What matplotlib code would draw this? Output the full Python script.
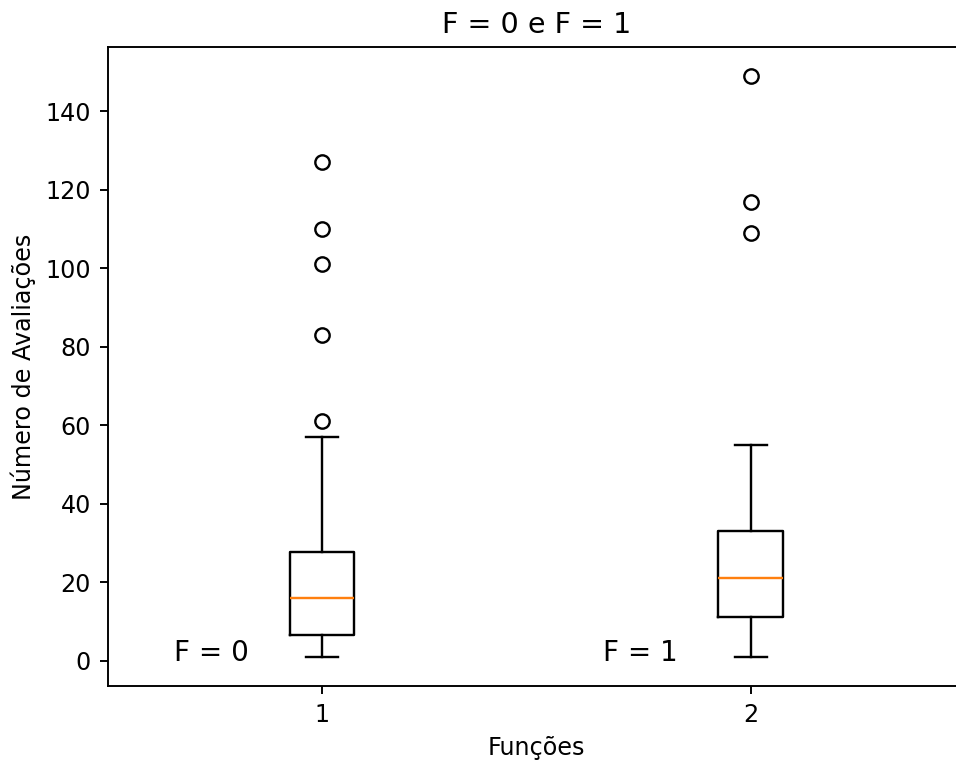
import matplotlib
matplotlib.use("Agg")
import matplotlib.pyplot as plt

labels = ["1", "2"]
q1 = [6.5, 11.2]
med = [16.0, 21.0]
q3 = [27.7, 33.2]
whislo = [1, 1]
whishi = [57, 55]
fliers = [[61, 83, 101, 110, 127], [109, 117, 149]]
annot = ["F = 0", "F = 1"]
annot_x = [0.655, 1.655]

dpi = 172
W, H = 956, 760
fig = plt.figure(figsize=(W / dpi, H / dpi), dpi=dpi)
ax = fig.add_axes([107.5 / W, 1 - 686 / H, (965 - 107.5) / W, (686 - 47) / H])

stats = []
for i in range(len(labels)):
    stats.append(dict(label=labels[i], q1=q1[i], med=med[i], q3=q3[i],
                      whislo=whislo[i], whishi=whishi[i], fliers=fliers[i]))
ax.bxp(stats)

for x, t in zip(annot_x, annot):
    ax.text(x, 0, t, fontsize=11.6, ha="left", va="baseline")

ax.set_title("F = 0 e F = 1", fontsize=12)
ax.set_xlabel("Funções")
ax.set_ylabel("Número de Avaliações")

fig.savefig("out.png", dpi=dpi)
